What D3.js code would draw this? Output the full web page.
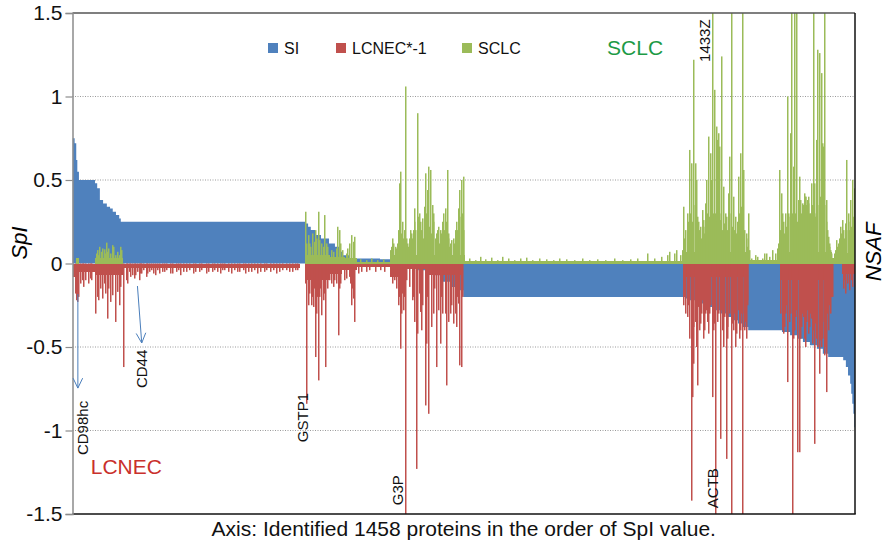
<!DOCTYPE html>
<html>
<head>
<meta charset="utf-8">
<script src="https://cdn.jsdelivr.net/npm/d3@7"></script>
<style>
  html, body { margin: 0; padding: 0; background: #fff; }
  svg { display: block; font-family: "Liberation Sans", Arial, Helvetica, sans-serif; }
</style>
</head>
<body>
<svg id="chart" width="885" height="543"></svg>
<script>
// ---------------- data ----------------
const proteinCount = 1458;

// SI: sorted step levels, each level starts at the given protein index
const siFrom  = [0,4,7,9,12,42,46,51,57,64,70,75,81,87,90,435,439,444,452,463,478,489,497,504,517,573,593,625,644,660,672,685,707,720,728,1141,1149,1160,1175,1192,1206,1219,1231,1240,1249,1259,1322,1337,1350,1361,1374,1387,1398,1408,1436,1441,1445,1449,1451,1453,1455,1457];
const siValue = [0.75,0.72,0.62,0.55,0.50,0.48,0.45,0.38,0.36,0.34,0.33,0.31,0.29,0.27,0.25,0.24,0.22,0.20,0.17,0.15,0.12,0.10,0.07,0.05,0.03,0.025,0.005,-0.02,-0.04,-0.05,-0.07,-0.11,-0.14,-0.16,-0.20,-0.21,-0.22,-0.24,-0.26,-0.28,-0.30,-0.32,-0.34,-0.36,-0.38,-0.40,-0.41,-0.43,-0.45,-0.47,-0.49,-0.51,-0.54,-0.56,-0.58,-0.62,-0.67,-0.72,-0.78,-0.84,-0.90,-0.98];

// LCNEC*-1: low-level runs (from, to, level) and individual protein values
const lcnecRunFrom  = [0,12,42,96,433,480,502,530,592,620,660,1139,1318,1434];
const lcnecRunTo    = [12,42,96,424,480,502,530,592,620,660,728,1259,1416,1458];
const lcnecRunLevel = [-0.08,-0.05,-0.07,-0.025,-0.1,-0.06,-0.04,-0.02,-0.08,-0.03,-0.07,-0.08,-0.1,-0.06];
const lcnecAt  = [5,7,9,11,14,18,21,25,29,33,36,43,46,49,53,56,59,62,65,68,71,75,80,83,87,90,95,100,103,109,115,118,124,129,137,144,154,163,172,182,193,202,213,225,236,249,260,275,284,297,307,323,334,345,357,368,381,392,405,416,
  106,112,121,126,133,140,148,151,158,167,176,186,197,207,218,229,241,254,265,270,279,290,302,312,318,328,340,350,362,374,386,398,410,420,
  436,439,442,445,449,452,455,458,461,464,467,472,476,482,486,489,495,500,506,511,520,524,526,532,539,547,554,564,573,582,592,597,603,607,611,615,617,620,627,633,637,641,643,648,651,657,660,664,668,672,678,682,686,690,697,700,705,709,713,716,720,722,725,727,
  434,447,451,457,463,470,479,492,498,516,518,522,600,609,613,619,623,635,646,653,662,675,688,695,707,718,
  1139,1141,1143,1145,1147,1150,1153,1155,1157,1158,1160,1162,1164,1166,1168,1170,1172,1174,1175,1177,1179,1181,1183,1185,1187,1189,1192,1194,1195,1197,1199,1202,1204,1207,1209,1211,1213,1215,1218,1220,1221,1224,1227,1229,1231,1233,1235,1237,1238,1240,1242,1244,1246,1248,1249,1252,1254,1255,1257,1258,
  1320,1322,1325,1327,1328,1330,1333,1336,1338,1341,1343,1345,1347,1349,1351,1354,1356,1358,1360,1362,1364,1366,1368,1370,1371,1373,1375,1377,1379,1381,1383,1385,1387,1389,1391,1392,1394,1395,1397,1398,1401,1403,1405,1406,1408,1410,1412,1414,1416,
  1436,1439,1441,1444,1447,1451,1454];
const lcnecValue = [-0.18,-0.22,-0.23,-0.2,-0.12,-0.1,-0.14,-0.1,-0.12,-0.09,-0.1,-0.3,-0.2,-0.22,-0.15,-0.21,-0.12,-0.18,-0.33,-0.15,-0.23,-0.19,-0.35,-0.17,-0.25,-0.14,-0.62,-0.1,-0.12,-0.08,-0.09,-0.07,-0.1,-0.06,-0.08,-0.05,-0.07,-0.06,-0.05,-0.06,-0.05,-0.07,-0.05,-0.06,-0.05,-0.06,-0.05,-0.06,-0.04,-0.06,-0.05,-0.06,-0.05,-0.06,-0.05,-0.05,-0.06,-0.04,-0.05,-0.04,
  -0.05,-0.07,-0.05,-0.06,-0.04,-0.06,-0.04,-0.06,-0.04,-0.05,-0.04,-0.06,-0.04,-0.05,-0.04,-0.05,-0.04,-0.05,-0.04,-0.05,-0.04,-0.05,-0.04,-0.05,-0.04,-0.05,-0.04,-0.05,-0.04,-0.04,-0.05,-0.04,-0.05,-0.04,
  -0.84,-0.25,-0.18,-0.25,-0.26,-0.56,-0.3,-0.7,-0.2,-0.31,-0.22,-0.62,-0.15,-0.12,-0.14,-0.1,-0.43,-0.12,-0.1,-0.09,-0.25,-0.21,-0.35,-0.06,-0.05,-0.05,-0.04,-0.05,-0.04,-0.05,-0.06,-0.12,-0.15,-0.25,-0.51,-0.18,-0.28,-1.5,-0.14,-0.22,-0.35,-1.23,-0.42,-0.29,-0.4,-0.85,-0.48,-0.9,-0.38,-0.3,-0.62,-0.28,-0.48,-0.3,-0.73,-0.35,-0.3,-0.36,-0.3,-0.38,-0.24,-0.61,-0.62,-0.2,
  -0.12,-0.2,-0.15,-0.2,-0.15,-0.18,-0.1,-0.12,-0.15,-0.08,-0.12,-0.15,-0.1,-0.2,-0.3,-0.2,-0.1,-0.2,-0.18,-0.25,-0.2,-0.15,-0.2,-0.3,-0.25,-0.2,
  -0.25,-0.2,-0.3,-0.32,-0.25,-0.45,-1.42,-0.8,-0.38,-0.6,-0.35,-0.5,-0.73,-0.26,-0.4,-0.36,-0.3,-0.22,-0.45,-0.4,-0.3,-0.28,-0.35,-0.42,-0.3,-0.25,-0.8,-0.3,-0.4,-0.36,-1.5,-0.35,-0.3,-1.05,-0.28,-0.4,-0.5,-0.32,-1.17,-0.38,-0.45,-0.3,-1.5,-0.36,-0.4,-0.3,-0.5,-0.34,-0.42,-0.28,-0.45,-0.4,-0.3,-0.3,-1.5,-0.4,-0.35,-0.45,-0.22,-0.25,
  -0.3,-0.4,-0.42,-0.38,-0.3,-0.25,-0.71,-0.35,-0.3,-1.5,-0.45,-0.4,-0.32,-0.28,-1.13,-1.13,-0.45,-0.38,-0.3,-0.32,-0.45,-0.5,-0.35,-0.28,-0.42,-0.38,-0.3,-0.33,-0.48,-0.4,-1.08,-0.36,-0.45,-0.5,-0.42,-0.66,-0.46,-0.5,-0.35,-0.45,-0.55,-0.5,-0.77,-0.3,-0.4,-0.25,-0.3,-0.2,-0.2,
  -0.15,-0.1,-0.18,-0.12,-0.16,-0.1,-0.14];

// SCLC: low-level runs and individual protein values
const sclcRunFrom  = [7,42,433,480,508,530,592,731,1137,1262,1317,1415,1430];
const sclcRunTo    = [13,94,480,508,530,592,731,1137,1262,1317,1415,1430,1458];
const sclcRunLevel = [0.03,0.03,0.05,0.04,0.03,0.01,0.05,0.012,0.07,0.02,0.07,0.03,0.06];
const sclcAt = [44,46,48,51,54,56,59,61,64,66,68,71,75,77,80,83,87,90,92,
  434,436,439,442,444,447,450,452,455,458,461,464,467,470,474,476,482,487,491,494,497,500,504,510,513,517,520,523,526,
  536,547,558,569,580,
  593,597,601,605,609,611,614,617,620,624,627,631,635,638,642,645,649,652,655,657,660,662,664,667,670,673,678,682,685,689,692,695,698,701,705,709,713,716,719,722,725,728,729,
  595,599,603,607,613,616,619,622,626,629,633,637,640,644,647,651,654,659,666,669,672,676,680,684,687,691,694,697,700,703,707,711,715,718,721,724,727,
  740,751,761,770,780,791,802,812,823,834,845,858,871,884,896,908,921,936,951,964,979,994,1009,1024,1039,1052,1071,1085,1098,1108,1113,1121,1126,1132,
  1139,1143,1146,1149,1153,1157,1160,1162,1166,1170,1173,1176,1179,1182,1185,1188,1191,1193,1196,1199,1200,1202,1203,1206,1210,1213,1216,1219,1222,1225,1227,1231,1235,1241,1244,1247,1249,1251,1256,1259,
  1137,1141,1145,1148,1151,1155,1158,1164,1168,1172,1175,1178,1181,1184,1187,1190,1195,1198,1205,1208,1212,1215,1218,1221,1224,1229,1233,1237,1239,1243,1246,1253,1255,1258,1261,
  1266,1272,1277,1285,1290,1294,1299,1305,1310,1314,
  1316,1318,1321,1324,1328,1332,1335,1337,1340,1343,1346,1349,1352,1355,1357,1360,1363,1366,1369,1372,1374,1377,1380,1383,1386,1389,1392,1396,1398,1400,1402,1405,1408,1411,1415,
  1317,1320,1323,1326,1330,1334,1339,1342,1345,1348,1351,1354,1359,1362,1365,1368,1371,1376,1379,1382,1385,1388,1391,1394,1397,1401,1404,1407,1410,1413,
  1419,1423,1427,1431,1434,1436,1440,1443,1446,1450,1453,1456,1457,
  1421,1425,1429,1433,1438,1442,1445,1448,1452,1455];
const sclcValue = [0.06,0.08,0.05,0.1,0.07,0.09,0.085,0.06,0.125,0.07,0.09,0.06,0.11,0.1,0.05,0.07,0.05,0.1,0.08,
  0.31,0.12,0.17,0.12,0.1,0.18,0.13,0.2,0.15,0.31,0.14,0.12,0.1,0.29,0.12,0.1,0.08,0.07,0.09,0.22,0.2,0.12,0.08,0.06,0.09,0.12,0.17,0.13,0.16,
  0.025,0.02,0.03,0.02,0.025,
  0.08,0.15,0.1,0.12,0.48,0.55,0.25,0.15,1.06,0.12,0.15,0.18,0.2,0.33,0.9,0.28,0.25,0.27,0.34,0.54,0.3,0.44,0.58,0.56,0.35,0.25,0.18,0.22,0.2,0.25,0.3,0.33,0.56,0.15,0.12,0.15,0.2,0.25,0.33,0.44,0.5,0.52,0.2,
  0.1,0.12,0.09,0.2,0.18,0.12,0.2,0.15,0.1,0.2,0.15,0.25,0.2,0.22,0.3,0.2,0.15,0.25,0.22,0.18,0.3,0.15,0.2,0.12,0.18,0.15,0.2,0.25,0.18,0.1,0.14,0.12,0.18,0.2,0.28,0.22,0.3,
  0.03,0.02,0.04,0.025,0.035,0.02,0.04,0.03,0.02,0.03,0.035,0.02,0.03,0.025,0.02,0.03,0.025,0.02,0.03,0.02,0.025,0.02,0.03,0.02,0.025,0.03,0.06,0.03,0.04,0.05,0.07,0.06,0.08,0.05,
  0.34,0.2,0.3,0.68,0.6,1.22,0.6,0.5,0.25,0.22,0.32,0.26,0.36,0.5,0.76,0.66,0.5,1.6,1.04,0.3,0.82,0.74,0.78,0.7,1.24,0.46,0.3,0.28,0.42,0.64,1.6,0.4,0.28,0.52,0.66,0.34,1.6,0.56,0.18,0.3,
  0.08,0.15,0.18,0.25,0.3,0.25,0.35,0.28,0.2,0.15,0.22,0.18,0.25,0.3,0.28,0.35,0.3,0.25,0.3,0.26,0.2,0.24,0.18,0.2,0.3,0.22,0.2,0.18,0.25,0.3,0.22,0.2,0.15,0.1,0.08,
  0.03,0.05,0.04,0.03,0.06,0.06,0.04,0.08,0.06,0.09,
  0.12,0.56,0.42,0.25,0.3,1.0,0.3,0.78,1.6,0.58,1.6,1.6,0.38,0.52,0.38,0.36,0.42,0.4,0.38,0.36,0.3,0.48,1.6,0.48,0.74,1.28,1.26,1.14,0.72,0.7,1.6,0.38,0.16,0.1,0.06,
  0.15,0.2,0.3,0.18,0.22,0.28,0.25,0.3,0.22,0.3,0.25,0.32,0.3,0.35,0.4,0.35,0.4,0.3,0.35,0.3,0.28,0.35,0.3,0.4,0.3,0.35,0.25,0.2,0.12,0.08,
  0.06,0.14,0.12,0.22,0.26,0.2,0.24,0.62,0.3,0.38,0.5,0.28,0.45,
  0.08,0.1,0.15,0.18,0.15,0.2,0.25,0.2,0.22,0.25];

const yTickValues = [1.5, 1, 0.5, 0, -0.5, -1, -1.5];
const yTickLabels = ["1.5", "1", "0.5", "0", "-0.5", "-1", "-1.5"];
const gridValues  = [1, 0.5, -0.5, -1];

const seriesNames  = ["SI", "LCNEC*-1", "SCLC"];
const seriesColors = ["#4F81BD", "#C0504D", "#9BBB59"];

// ---------------- layout ----------------
const svg = d3.select("#chart");
const plotLeft = 72.5, plotRight = 855, plotTop = 13, plotBottom = 514;

const x = d3.scaleLinear().domain([0, proteinCount]).range([plotLeft, plotRight]);
const y = d3.scaleLinear().domain([-1.5, 1.5]).range([plotBottom, plotTop]);

svg.append("defs").append("clipPath").attr("id", "plotClip")
  .append("rect")
  .attr("x", plotLeft).attr("y", plotTop)
  .attr("width", plotRight - plotLeft).attr("height", plotBottom - plotTop);

// dotted horizontal gridlines
svg.append("g").selectAll("line").data(gridValues).join("line")
  .attr("x1", plotLeft).attr("x2", plotRight)
  .attr("y1", d => y(d)).attr("y2", d => y(d))
  .attr("stroke", "#9a9a9a").attr("stroke-width", 1)
  .attr("stroke-dasharray", "1,1.5");

const plot = svg.append("g").attr("clip-path", "url(#plotClip)");

// SI as a stepped area from zero
const siPoints = siFrom.map((f, k) => ({ i: f, v: siValue[k] }));
siPoints.push({ i: proteinCount, v: siValue[siValue.length - 1] });
plot.append("path")
  .datum(siPoints)
  .attr("fill", seriesColors[0])
  .attr("d", d3.area()
    .x(d => x(d.i))
    .y0(y(0))
    .y1(d => y(d.v))
    .curve(d3.curveStepAfter));

function drawSeries(runFrom, runTo, runLevel, at, values, color) {
  const g = plot.append("g").attr("fill", color);
  g.selectAll("rect.run")
    .data(runFrom.map((f, k) => ({ f, t: runTo[k], v: runLevel[k] })))
    .join("rect").attr("class", "run")
    .attr("shape-rendering", "crispEdges")
    .attr("x", d => x(d.f))
    .attr("width", d => x(d.t) - x(d.f))
    .attr("y", d => Math.min(y(0), y(d.v)))
    .attr("height", d => Math.abs(y(d.v) - y(0)));
  // thin column per protein value
  g.selectAll("rect.bar")
    .data(at.map((i, k) => ({ i, v: values[k] })))
    .join("rect").attr("class", "bar")
    .attr("x", d => Math.floor(x(d.i)))
    .attr("width", 1.5)
    .attr("y", d => Math.min(y(0), y(d.v)))
    .attr("height", d => Math.abs(y(d.v) - y(0)));
}
drawSeries(lcnecRunFrom, lcnecRunTo, lcnecRunLevel, lcnecAt, lcnecValue, seriesColors[1]);
drawSeries(sclcRunFrom, sclcRunTo, sclcRunLevel, sclcAt, sclcValue, seriesColors[2]);

// frame
svg.append("line").attr("x1", plotLeft).attr("x2", plotRight).attr("y1", plotTop).attr("y2", plotTop)
  .attr("stroke", "#555").attr("stroke-width", 1.5);
svg.append("line").attr("x1", plotRight).attr("x2", plotRight).attr("y1", plotTop).attr("y2", plotBottom)
  .attr("stroke", "#111").attr("stroke-width", 1.5);
svg.append("line").attr("x1", plotLeft).attr("x2", plotRight + 0.75).attr("y1", plotBottom).attr("y2", plotBottom)
  .attr("stroke", "#111").attr("stroke-width", 1.5);

// y axis
const yAxis = svg.append("g").attr("transform", `translate(${plotLeft},0)`)
  .call(d3.axisLeft(y).tickValues(yTickValues)
    .tickFormat((d, k) => yTickLabels[k]).tickSize(7).tickPadding(3));
yAxis.select(".domain").attr("stroke", "#8c8c8c").attr("stroke-width", 1.5);
yAxis.selectAll(".tick line").attr("stroke", "#8c8c8c").attr("stroke-width", 1.2);
yAxis.selectAll(".tick text")
  .attr("font-size", 21).attr("fill", "#111")
  .attr("font-family", "\"Liberation Sans\", Arial, Helvetica, sans-serif");

// axis titles
svg.append("text").attr("transform", "translate(27,243) rotate(-90)")
  .attr("text-anchor", "middle").attr("font-size", 22).attr("font-style", "italic")
  .text("SpI");
svg.append("text").attr("transform", "translate(881,252) rotate(-90)")
  .attr("text-anchor", "middle").attr("font-size", 22).attr("font-style", "italic")
  .text("NSAF");
svg.append("text").attr("x", (plotLeft + plotRight) / 2).attr("y", 536)
  .attr("text-anchor", "middle").attr("font-size", 21).attr("fill", "#111")
  .text("Axis: Identified 1458 proteins in the order of SpI value.");

// legend
const legendX = [268, 336, 462];
const legend = svg.append("g");
seriesNames.forEach((name, k) => {
  legend.append("rect").attr("x", legendX[k]).attr("y", 43).attr("width", 10).attr("height", 10)
    .attr("fill", seriesColors[k]);
  legend.append("text").attr("x", legendX[k] + 16).attr("y", 54)
    .attr("font-size", 16).attr("fill", "#111").text(name);
});

// group captions
svg.append("text").attr("x", x(996)).attr("y", y(1.25))
  .attr("font-size", 21).attr("fill", "#1d9a46").text("SCLC");
svg.append("text").attr("x", x(34)).attr("y", y(-1.26))
  .attr("font-size", 21).attr("fill", "#c9302c").text("LCNEC");

// protein name annotations (rotated, reading upwards)
const notes = [
  { name: "CD98hc", i: 18,   v: -1.147 },
  { name: "CD44",   i: 128,  v: -0.746 },
  { name: "GSTP1",  i: 429,  v: -1.07 },
  { name: "G3P",    i: 606,  v: -1.447 },
  { name: "ACTB",   i: 1193, v: -1.465 },
  { name: "1433Z",  i: 1178, v: 1.207 }
];
svg.append("g").selectAll("text").data(notes).join("text")
  .attr("transform", d => `translate(${x(d.i) + 5.4},${y(d.v)}) rotate(-90)`)
  .attr("font-size", 15).attr("fill", "#111")
  .text(d => d.name);

// pointer arrows
const arrows = [
  { i0: 10, v0: -0.183, i1: 10, v1: -0.746 },
  { i0: 121, v0: -0.135, i1: 129, v1: -0.476 }
];
const ag = svg.append("g").attr("stroke", "#4a7ebb").attr("stroke-width", 1).attr("fill", "none");
arrows.forEach(a => {
  const x0 = x(a.i0), y0 = y(a.v0), x1 = x(a.i1), y1 = y(a.v1);
  const ang = Math.atan2(y1 - y0, x1 - x0);
  const len = 11, spread = 0.45;
  const hx1 = x1 - len * Math.cos(ang - spread), hy1 = y1 - len * Math.sin(ang - spread);
  const hx2 = x1 - len * Math.cos(ang + spread), hy2 = y1 - len * Math.sin(ang + spread);
  ag.append("path").attr("d", `M${x0},${y0}L${x1},${y1}M${hx1},${hy1}L${x1},${y1}L${hx2},${hy2}`);
});
</script>
</body>
</html>
